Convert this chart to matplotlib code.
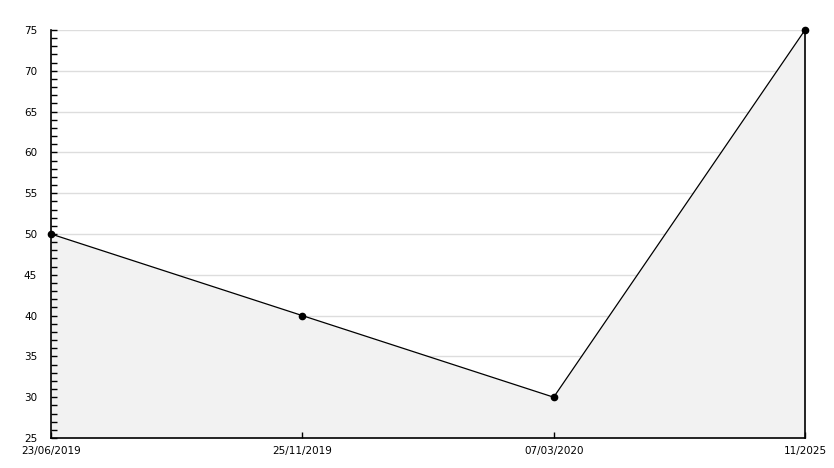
import matplotlib
matplotlib.use("Agg")
import matplotlib.pyplot as plt
from matplotlib.ticker import MultipleLocator

dates = ["23/06/2019", "25/11/2019", "07/03/2020", "11/2025"]
values = [50, 40, 30, 75]

fig = plt.figure(figsize=(8.34, 4.68), dpi=100)
ax = fig.add_axes([51 / 834, 1 - 438 / 468, (805 - 51) / 834, (438 - 30) / 468])

x = list(range(len(dates)))
ax.set_xlim(0, len(dates) - 1)
ax.set_ylim(25, 75)
ax.set_xticks(x)
ax.set_xticklabels(dates)
ax.yaxis.set_major_locator(MultipleLocator(5))
ax.yaxis.set_minor_locator(MultipleLocator(1))

# grid under the fill, ticks on top of it
ax.hlines(ax.get_yticks(), 0, len(dates) - 1, color="#dddddd", linewidth=1, zorder=0)
ax.fill_between(x, values, 25, color="#f2f2f2", linewidth=0, zorder=1)
ax.plot(x, values, color="black", linewidth=0.9, marker="o", markersize=4.5,
        zorder=3, clip_on=False)

ax.spines["top"].set_visible(False)
for side in ["left", "bottom", "right"]:
    ax.spines[side].set_linewidth(1.2)
    ax.spines[side].set_color("black")

ax.tick_params(axis="y", which="major", direction="in", length=4, width=1, labelsize=7.5, pad=10)
ax.tick_params(axis="y", which="minor", direction="in", length=4, width=1)
ax.tick_params(axis="x", which="major", direction="in", length=4, width=1, labelsize=7.5, pad=6)
ax.tick_params(axis="y", right=False)

fig.savefig("out.png", dpi=100)
